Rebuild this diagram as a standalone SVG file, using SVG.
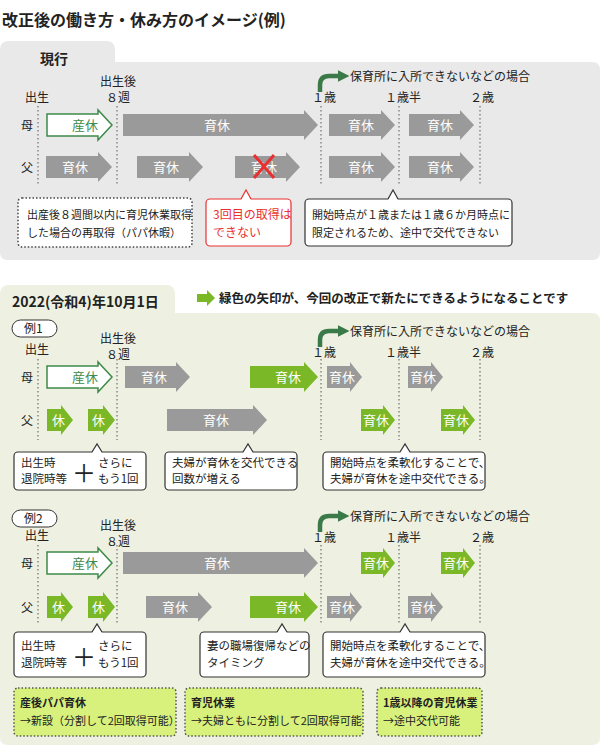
<svg xmlns="http://www.w3.org/2000/svg" width="602" height="750" viewBox="0 0 602 750">
<style>
text{font-family:"Noto Sans CJK JP","Noto Sans",sans-serif;font-size:11px;fill:#222}
.b{font-weight:bold}
.t{font-size:12px}
.c{font-size:11.5px}
.w{fill:#fff;font-size:13px}
.g{fill:#9a9a9a}
.n{fill:#7ab828}
.o{fill:#fff;stroke:#3e8a4a;stroke-width:1.5}
.vl{stroke:#888;stroke-width:1.5;stroke-dasharray:1.5 2.5}
.cb{fill:#fff;stroke:#333;stroke-width:1.2}
.ptr{fill:#fff;stroke:none}
.ps{fill:none;stroke:#333;stroke-width:1.2}
.hook{fill:none;stroke:#3a7a48;stroke-width:4.5}
.lime{fill:#d8f07c;stroke:#555;stroke-width:1.5;stroke-dasharray:1.5 2}
</style>
<defs>
<marker id="hk" viewBox="0 0 10 10" refX="2" refY="5" markerWidth="2.6" markerHeight="2.6" orient="auto"><path d="M0,0 L10,5 L0,10z" fill="#3a7a48"/></marker>
</defs>
<text x="2" y="26" class="b" style="font-size:16px">改正後の働き方・休み方のイメージ(例)</text>

<g id="panel-current">
<path d="M0,50 Q0,41 9,41 L106,41 Q115,41 115,50 L115,62 L592,62 Q600,62 600,70 L600,252 Q600,260 592,260 L8,260 Q0,260 0,252z" fill="#e9e9e9"/>
<text x="40" y="64" class="b" style="font-size:14px">現行</text>
<line class="vl" x1="38" y1="106" x2="38" y2="184"/><line class="vl" x1="117" y1="106" x2="117" y2="184"/><line class="vl" x1="321" y1="106" x2="321" y2="184"/><line class="vl" x1="399" y1="106" x2="399" y2="184"/><line class="vl" x1="480" y1="106" x2="480" y2="184"/>
<text x="25" y="102" class="t">出生</text><text x="100" y="86" class="t">出生後</text><text x="106" y="102" class="t">８週</text>
<text x="312" y="102" class="t">１歳</text><text x="385" y="102" class="t">１歳半</text><text x="470" y="102" class="t">２歳</text>
<path class="hook" d="M320,92 L320,85 Q320,76 329,76 L340,76" marker-end="url(#hk)"/>
<text x="350" y="81" class="t">保育所に入所できないなどの場合</text>
<text x="21" y="130" class="t">母</text><text x="21" y="172" class="t">父</text>
<polygon class="o" points="47,114 98,114 98,110 112,125 98,140 98,136 47,136"/><text x="72" y="130" style="font-size:13px;fill:#3e8a4a">産休</text>
<polygon class="g" points="123,114 304,114 304,110 318,125 304,140 304,136 123,136"/><text x="204" y="130" class="w">育休</text>
<polygon class="g" points="329,114 381,114 381,110 395,125 381,140 381,136 329,136"/><text x="348" y="130" class="w">育休</text>
<polygon class="g" points="409,114 460,114 460,110 474,125 460,140 460,136 409,136"/><text x="427" y="130" class="w">育休</text>
<polygon class="g" points="46,156 98,156 98,152 112,167 98,182 98,178 46,178"/><text x="62" y="172" class="w">育休</text>
<polygon class="g" points="137,156 189,156 189,152 203,167 189,182 189,178 137,178"/><text x="153" y="172" class="w">育休</text>
<polygon class="g" points="235,156 286,156 286,152 300,167 286,182 286,178 235,178"/><text x="251" y="172" class="w">育休</text>
<polygon class="g" points="329,156 381,156 381,152 395,167 381,182 381,178 329,178"/><text x="348" y="172" class="w">育休</text>
<polygon class="g" points="409,156 460,156 460,152 474,167 460,182 460,178 409,178"/><text x="427" y="172" class="w">育休</text>
<path d="M254,155 L274,178 M274,155 L254,178" stroke="#e83030" stroke-width="3"/>
<rect x="18" y="198" width="174" height="49" rx="4" fill="#fff" stroke="#444" stroke-width="1.5" stroke-dasharray="1.5 2"/>
<text x="27" y="219">出産後８週間以内に育児休業取得</text><text x="27" y="237">した場合の再取得（パパ休暇）</text>
<rect x="206" y="199" width="85" height="47" rx="4" fill="#fff" stroke="#e83030" stroke-width="1.2"/>
<polygon points="241,200 246,190 251,200" fill="#fff"/><polyline points="241,199 246,190 251,199" fill="none" stroke="#e83030" stroke-width="1.2"/>
<text x="213" y="219" style="fill:#e83030;font-size:12px">3回目の取得は</text><text x="213" y="237" style="fill:#e83030;font-size:12px">できない</text>
<rect class="cb" x="305" y="199" width="207" height="47" rx="4"/>
<polygon class="ptr" points="388,200 393,190 398,200"/><polyline class="ps" points="388,199 393,190 398,199"/>
<text x="312" y="219">開始時点が１歳または１歳６か月時点に</text><text x="312" y="237">限定されるため、途中で交代できない</text>
</g>

<g id="panel-new">
<path d="M0,294 Q0,285 9,285 L166,285 Q175,285 175,294 L175,313 L592,313 Q600,313 600,321 L600,737 Q600,745 592,745 L8,745 Q0,745 0,737z" fill="#eef1e1"/>
<text x="12" y="307" class="b" style="font-size:14px">2022(令和4)年10月1日</text>
<polygon class="n" points="197,294 207,294 207,290 215,298 207,306 207,302 197,302"/>
<text x="219" y="303" class="b" style="font-size:12.5px">緑色の矢印が、今回の改正で新たにできるようになることです</text>
</g>

<g id="example1">
<rect x="12" y="320" width="45" height="17" rx="8.5" fill="#fff" stroke="#333"/><text x="24" y="333" class="t">例1</text>
<line class="vl" x1="38" y1="359" x2="38" y2="440"/><line class="vl" x1="117" y1="359" x2="117" y2="440"/><line class="vl" x1="321" y1="359" x2="321" y2="440"/><line class="vl" x1="399" y1="359" x2="399" y2="440"/><line class="vl" x1="480" y1="359" x2="480" y2="440"/>
<text x="25" y="354" class="t">出生</text><text x="100" y="343" class="t">出生後</text><text x="106" y="359" class="t">８週</text>
<text x="312" y="357" class="t">１歳</text><text x="385" y="357" class="t">１歳半</text><text x="470" y="357" class="t">２歳</text>
<path class="hook" d="M320,347 L320,340 Q320,331 329,331 L340,331" marker-end="url(#hk)"/>
<text x="350" y="336" class="t">保育所に入所できないなどの場合</text>
<text x="21" y="382" class="t">母</text><text x="21" y="425" class="t">父</text>
<polygon class="o" points="47,366 98,366 98,362 112,377 98,392 98,388 47,388"/><text x="72" y="382" style="font-size:13px;fill:#3e8a4a">産休</text>
<polygon class="g" points="125,366 176,366 176,362 190,377 176,392 176,388 125,388"/><text x="141" y="382" class="w">育休</text>
<polygon class="n" points="250,366 304,366 304,362 318,377 304,392 304,388 250,388"/><text x="275" y="382" class="w">育休</text>
<polygon class="g" points="327,366 350,366 350,362 362,377 350,392 350,388 327,388"/><text x="329" y="382" class="w">育休</text>
<polygon class="g" points="408,366 431,366 431,362 443,377 431,392 431,388 408,388"/><text x="410" y="382" class="w">育休</text>
<polygon class="n" points="47,409 61,409 61,405 73,420 61,435 61,431 47,431"/><text x="52" y="425" class="w">休</text>
<polygon class="n" points="88,409 103,409 103,405 115,420 103,435 103,431 88,431"/><text x="92" y="425" class="w">休</text>
<polygon class="g" points="167,409 253,409 253,405 267,420 253,435 253,431 167,431"/><text x="203" y="425" class="w">育休</text>
<polygon class="n" points="361,409 383,409 383,405 395,420 383,435 383,431 361,431"/><text x="363" y="425" class="w">育休</text>
<polygon class="n" points="441,409 463,409 463,405 475,420 463,435 463,431 441,431"/><text x="443" y="425" class="w">育休</text>
<rect class="cb" x="14" y="452" width="132" height="38" rx="4"/><polygon class="ptr" points="92,453 97,444 102,453"/><polyline class="ps" points="92,452 97,444 102,452"/>
<text x="21" y="467" class="c">出生時</text><text x="21" y="483" class="c">退院時等</text><text x="72" y="482" style="font-size:24px">＋</text><text x="98" y="467" class="c">さらに</text><text x="98" y="483" class="c">もう1回</text>
<rect class="cb" x="165" y="452" width="132" height="38" rx="4"/><polygon class="ptr" points="243,453 248,444 253,453"/><polyline class="ps" points="243,452 248,444 253,452"/>
<text x="172" y="467" class="c">夫婦が育休を交代できる</text><text x="172" y="483" class="c">回数が増える</text>
<rect class="cb" x="323" y="452" width="162" height="38" rx="4"/><polygon class="ptr" points="400,453 405,444 410,453"/><polyline class="ps" points="400,452 405,444 410,452"/>
<text x="330" y="467" class="c">開始時点を柔軟化することで、</text><text x="330" y="483" class="c">夫婦が育休を途中交代できる。</text>
</g>

<g id="example2">
<rect x="12" y="510" width="45" height="17" rx="8.5" fill="#fff" stroke="#333"/><text x="24" y="523" class="t">例2</text>
<line class="vl" x1="38" y1="545" x2="38" y2="623"/><line class="vl" x1="117" y1="545" x2="117" y2="623"/><line class="vl" x1="321" y1="545" x2="321" y2="623"/><line class="vl" x1="399" y1="545" x2="399" y2="623"/><line class="vl" x1="480" y1="545" x2="480" y2="623"/>
<text x="25" y="540" class="t">出生</text><text x="100" y="530" class="t">出生後</text><text x="106" y="546" class="t">８週</text>
<text x="312" y="542" class="t">１歳</text><text x="385" y="542" class="t">１歳半</text><text x="470" y="542" class="t">２歳</text>
<path class="hook" d="M320,532 L320,525 Q320,516 329,516 L340,516" marker-end="url(#hk)"/>
<text x="350" y="521" class="t">保育所に入所できないなどの場合</text>
<text x="21" y="568" class="t">母</text><text x="21" y="612" class="t">父</text>
<polygon class="o" points="47,552 98,552 98,548 112,563 98,578 98,574 47,574"/><text x="72" y="568" style="font-size:13px;fill:#3e8a4a">産休</text>
<polygon class="g" points="123,552 304,552 304,548 318,563 304,578 304,574 123,574"/><text x="204" y="568" class="w">育休</text>
<polygon class="n" points="361,552 383,552 383,548 395,563 383,578 383,574 361,574"/><text x="363" y="568" class="w">育休</text>
<polygon class="n" points="441,552 463,552 463,548 475,563 463,578 463,574 441,574"/><text x="443" y="568" class="w">育休</text>
<polygon class="n" points="47,596 61,596 61,592 73,607 61,622 61,618 47,618"/><text x="52" y="612" class="w">休</text>
<polygon class="n" points="88,596 103,596 103,592 115,607 103,622 103,618 88,618"/><text x="92" y="612" class="w">休</text>
<polygon class="g" points="146,596 198,596 198,592 212,607 198,622 198,618 146,618"/><text x="162" y="612" class="w">育休</text>
<polygon class="n" points="250,596 304,596 304,592 318,607 304,622 304,618 250,618"/><text x="275" y="612" class="w">育休</text>
<polygon class="g" points="327,596 350,596 350,592 362,607 350,622 350,618 327,618"/><text x="329" y="612" class="w">育休</text>
<polygon class="g" points="408,596 431,596 431,592 443,607 431,622 431,618 408,618"/><text x="410" y="612" class="w">育休</text>
<rect class="cb" x="14" y="632" width="132" height="45" rx="4"/><polygon class="ptr" points="92,633 97,624 102,633"/><polyline class="ps" points="92,632 97,624 102,632"/>
<text x="21" y="650" class="c">出生時</text><text x="21" y="667" class="c">退院時等</text><text x="72" y="666" style="font-size:24px">＋</text><text x="98" y="650" class="c">さらに</text><text x="98" y="667" class="c">もう1回</text>
<rect class="cb" x="200" y="632" width="109" height="45" rx="4"/><polygon class="ptr" points="277,633 282,624 287,633"/><polyline class="ps" points="277,632 282,624 287,632"/>
<text x="207" y="650" class="c">妻の職場復帰などの</text><text x="207" y="667" class="c">タイミング</text>
<rect class="cb" x="323" y="632" width="162" height="45" rx="4"/><polygon class="ptr" points="400,633 405,624 410,633"/><polyline class="ps" points="400,632 405,624 410,632"/>
<text x="330" y="650" class="c">開始時点を柔軟化することで、</text><text x="330" y="667" class="c">夫婦が育休を途中交代できる。</text>
</g>

<g id="summary">
<rect class="lime" x="14" y="688" width="162" height="48" rx="4"/><text x="20" y="707" class="b">産後パパ育休</text><text x="20" y="725">→新設（分割して2回取得可能）</text>
<rect class="lime" x="185" y="688" width="178" height="48" rx="4"/><text x="191" y="707" class="b">育児休業</text><text x="191" y="725">→夫婦ともに分割して2回取得可能</text>
<rect class="lime" x="377" y="688" width="105" height="48" rx="4"/><text x="383" y="707" class="b">1歳以降の育児休業</text><text x="383" y="725">→途中交代可能</text>
</g>
</svg>
